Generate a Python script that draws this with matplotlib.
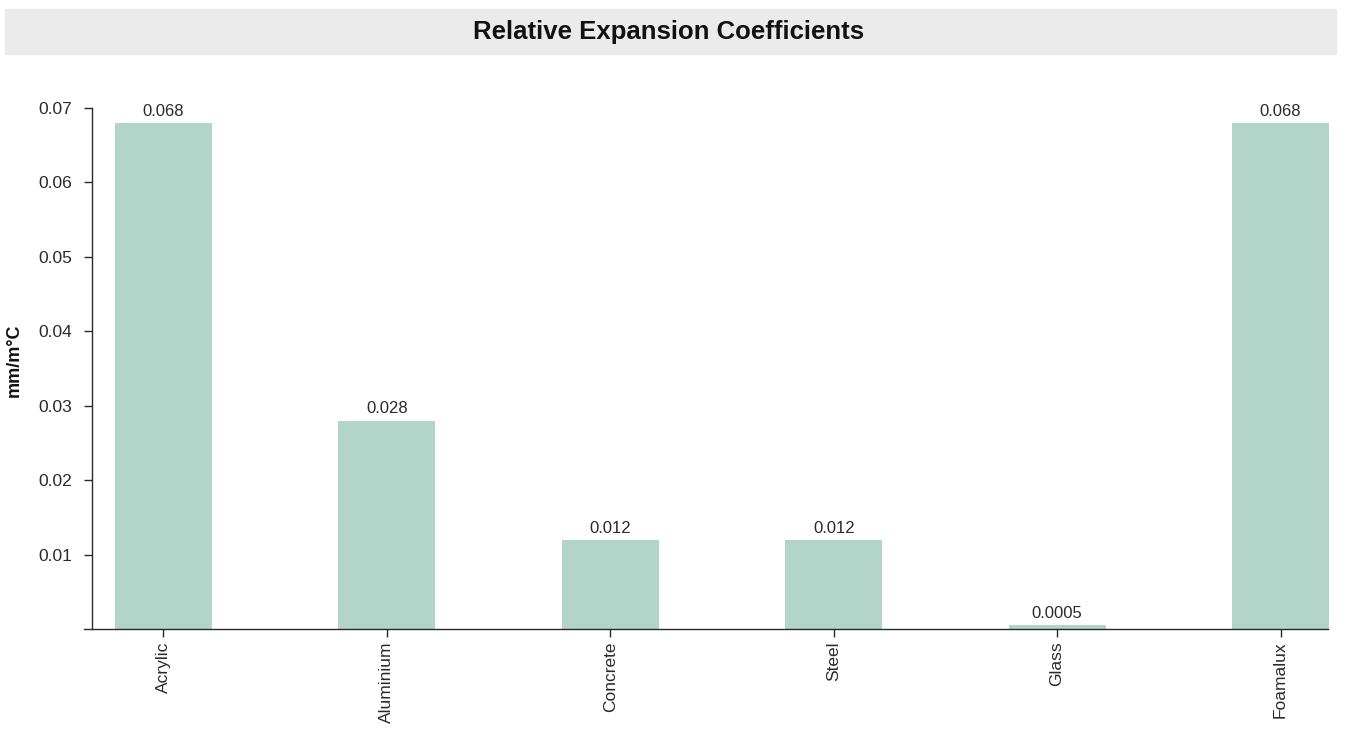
import matplotlib.pyplot as plt
from matplotlib.patches import Rectangle
from matplotlib.lines import Line2D

materials = ["Acrylic", "Aluminium", "Concrete", "Steel", "Glass", "Foamalux"]
coefficients = [0.068, 0.028, 0.012, 0.012, 0.0005, 0.068]
value_labels = ["0.068", "0.028", "0.012", "0.012", "0.0005", "0.068"]
y_ticks = [0.01, 0.02, 0.03, 0.04, 0.05, 0.06, 0.07]

W, H = 1346, 729
BAR_COLOR = "#b3d4c8"
TEXT = "#2a2a2a"

plt.rcParams["font.family"] = ["Liberation Sans", "DejaVu Sans"]

fig = plt.figure(figsize=(W / 100, H / 100), dpi=100)

# grey title strip
fig.patches.append(Rectangle((5 / W, 1 - 54 / H), 1331 / W, 45 / H,
                             transform=fig.transFigure, color="#ebebeb", zorder=0))
fig.text(669 / W, 1 - 32 / H, "Relative Expansion Coefficients",
         ha="center", va="center", fontsize=18.5, fontweight="bold", color="#111111")

left, right = 92 / W, 1329 / W
bottom, top = 1 - 629 / H, 1 - 108 / H
ax = fig.add_axes([left, bottom, right - left, top - bottom])

x = range(len(materials))
ax.bar(x, coefficients, width=0.434, color=BAR_COLOR, zorder=2)
for i, (v, lab) in enumerate(zip(coefficients, value_labels)):
    ax.annotate(lab, (i, v), xytext=(0, 3), textcoords="offset points",
                ha="center", va="bottom", fontsize=12, color=TEXT)

ax.set_xlim(-0.32, len(materials) - 1 + 0.217)
ax.set_ylim(0, 0.07)
ax.set_yticks(y_ticks)
ax.set_yticklabels([f"{t:g}" for t in y_ticks])
ax.set_xticks(list(x))
ax.set_xticklabels(materials, rotation=90)

for s in ["top", "right"]:
    ax.spines[s].set_visible(False)
ax.spines["bottom"].set_visible(False)
ax.spines["left"].set_color(TEXT)
ax.spines["left"].set_linewidth(1.0)
ax.tick_params(axis="both", length=6, width=1.0, color=TEXT, labelsize=12.5,
               labelcolor=TEXT)
ax.tick_params(axis="y", pad=8)
ax.tick_params(axis="x", pad=3)

# x axis line reaching a little left of the y axis
fig.lines.append(Line2D([84 / W, 1328 / W], [bottom, bottom], transform=fig.transFigure,
                        color=TEXT, linewidth=1.0))

fig.text(14 / W, 1 - 360 / H, "mm/m°C", rotation=90, ha="center", va="center",
         fontsize=13, fontweight="bold", color="#111111")

fig.savefig("out.png", dpi=100)
